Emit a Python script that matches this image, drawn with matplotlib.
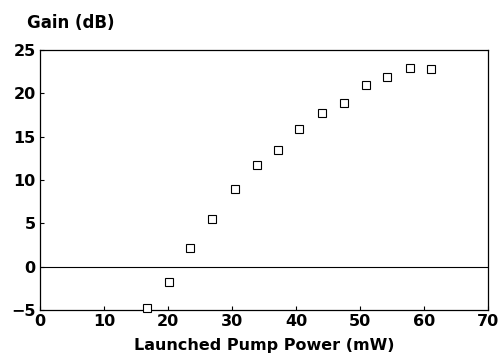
import numpy as np
import matplotlib.pyplot as plt

# launched pump power (mW) and gain (dB)
pump_mw = [16.7, 20.2, 23.5, 26.9, 30.4, 33.9, 37.2, 40.5, 44.0, 47.5, 50.9, 54.2, 57.8, 61.1]
gain_db = [-4.8, -1.8, 2.2, 5.5, 9.0, 11.7, 13.5, 15.9, 17.7, 18.9, 20.9, 21.9, 22.9, 22.8]

x_ticks = [0, 10, 20, 30, 40, 50, 60, 70]
y_ticks = [-5, 0, 5, 10, 15, 20, 25]

plt.rcParams['font.family'] = ['DejaVu Sans']

fig = plt.figure(figsize=(5, 3.54), dpi=100)
ax = fig.add_axes([0.08, 0.124, 0.896, 0.735])

ax.axhline(0, color='black', linewidth=0.8)
ax.plot(pump_mw, gain_db, linestyle='none', marker='s', markersize=5.2,
        markerfacecolor='white', markeredgecolor='black', markeredgewidth=0.8,
        clip_on=False, zorder=3)

ax.set_xlim(0, 70)
ax.set_ylim(-5, 25)
ax.set_xticks(x_ticks)
ax.set_yticks(y_ticks)
ax.tick_params(direction='in', length=3, width=0.8, labelsize=11.5)
ax.tick_params(axis='x', pad=3)
ax.tick_params(axis='y', pad=3)
for lab in ax.get_xticklabels() + ax.get_yticklabels():
    lab.set_fontweight('bold')

for s in ax.spines.values():
    s.set_linewidth(0.9)

ax.set_xlabel('Launched Pump Power (mW)', fontsize=11.5, fontweight='bold', labelpad=6)
fig.text(0.054, 0.935, 'Gain (dB)', fontsize=12, fontweight='bold', ha='left', va='center')

fig.savefig('out.png', dpi=100)
